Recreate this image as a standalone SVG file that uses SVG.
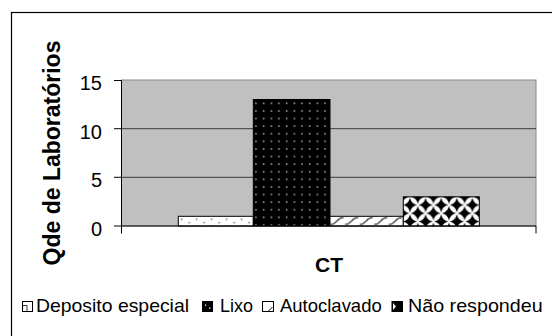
<svg xmlns="http://www.w3.org/2000/svg" width="552" height="336" viewBox="0 0 552 336">
<style>
.t{font-family:"Liberation Sans",Arial,sans-serif;fill:#000}
.tick{font-size:20px;text-anchor:end}
.leg{font-size:19px}
.bar{stroke:#000;stroke-width:1}
.ax{stroke:#000;stroke-width:1;fill:none}
.grid{stroke:#3a3a3a;stroke-width:1}
.dm{fill:#000}
</style>
<defs>
<pattern id="pDep" patternUnits="userSpaceOnUse" x="178.3" y="216.3" width="15" height="7">
<rect width="15" height="7" fill="#fff"/>
<circle cx="3.4" cy="3" r="0.75" fill="#333"/>
<circle cx="10.9" cy="6.4" r="0.75" fill="#333"/>
</pattern>
<pattern id="pLixo" patternUnits="userSpaceOnUse" x="253.3" y="99.5" width="7.67" height="7.6">
<rect width="7.67" height="7.6" fill="#000"/>
<circle cx="2.7" cy="3.8" r="0.8" fill="#ddd"/>
</pattern>
<pattern id="pAuto" patternUnits="userSpaceOnUse" x="330" y="216.5" width="14.6" height="9">
<rect width="14.6" height="9" fill="#fff"/>
<path d="M0.5,8 Q4,8 7,4.5 T13.5,1" fill="none" stroke="#000" stroke-width="1.1"/>
</pattern>
<pattern id="pNao" patternUnits="userSpaceOnUse" x="402.2" y="196.7" width="15.6" height="16.6">
<rect width="15.6" height="16.6" fill="#fff"/>
<path class="dm" d="M7.8,1 Q9,7 14.8,8.3 Q9,9.6 7.8,15.6 Q6.6,9.6 0.8,8.3 Q6.6,7 7.8,1Z"/>
<path class="dm" d="M0,-7.3 Q1.2,-1.3 7,0 Q1.2,1.3 0,7.3 Q-1.2,1.3 -7,0 Q-1.2,-1.3 0,-7.3Z"/>
<path class="dm" d="M15.6,-7.3 Q16.8,-1.3 22.6,0 Q16.8,1.3 15.6,7.3 Q14.4,1.3 8.6,0 Q14.4,-1.3 15.6,-7.3Z"/>
<path class="dm" d="M0,9.3 Q1.2,15.3 7,16.6 Q1.2,17.9 0,23.9 Q-1.2,17.9 -7,16.6 Q-1.2,15.3 0,9.3Z"/>
<path class="dm" d="M15.6,9.3 Q16.8,15.3 22.6,16.6 Q16.8,17.9 15.6,23.9 Q14.4,17.9 8.6,16.6 Q14.4,15.3 15.6,9.3Z"/>
</pattern>
</defs>

<rect id="frame" x="11.5" y="12.5" width="560" height="340" fill="#fff" stroke="#000" stroke-width="1.2"/>

<g id="plot-area">
<rect x="121.5" y="80" width="414.5" height="146" fill="#c0c0c0" stroke="#8a8a8a" stroke-width="1"/>
<line class="grid" x1="121.5" y1="128.7" x2="536" y2="128.7"/>
<line class="grid" x1="121.5" y1="177.3" x2="536" y2="177.3"/>
</g>

<g id="bars">
<g id="bar-deposito"><rect class="bar" x="178.3" y="216.3" width="75" height="9.7" fill="url(#pDep)"/></g>
<g id="bar-lixo"><rect class="bar" x="253.3" y="99.5" width="76.7" height="126.5" fill="url(#pLixo)"/></g>
<g id="bar-autoclavado"><rect class="bar" x="330" y="216.3" width="73.3" height="9.7" fill="url(#pAuto)"/></g>
<g id="bar-nao"><rect class="bar" x="403.3" y="196.8" width="76" height="29.2" fill="url(#pNao)"/></g>
</g>

<g id="axes">
<path class="ax" d="M121.5,80 V233.5 M114,80.5 H121.5 M114,128.7 H121.5 M114,177.3 H121.5 M114,226 H536 V233.5"/>
<text class="t tick" x="102" y="90">15</text>
<text class="t tick" x="102" y="138.5">10</text>
<text class="t tick" x="102" y="187">5</text>
<text class="t tick" x="102" y="235.7">0</text>
<text class="t" x="329" y="271.5" font-size="21" font-weight="bold" text-anchor="middle">CT</text>
<text class="t" transform="translate(60,153) rotate(-90)" font-size="23" font-weight="bold" text-anchor="middle">Qde de Laboratórios</text>
</g>

<g id="legend">
<g id="leg-deposito">
<rect x="22.5" y="301.5" width="10" height="10" fill="#fff" stroke="#000"/>
<path d="M23,305.5 H27 V311" fill="none" stroke="#000" stroke-width="0.8"/>
<text class="t leg" x="36" y="311.5" textLength="153" lengthAdjust="spacingAndGlyphs">Deposito especial</text>
</g>
<g id="leg-lixo">
<rect x="202.5" y="301.5" width="10" height="10" fill="#000" stroke="#000"/>
<rect x="205" y="304.5" width="1.3" height="1.3" fill="#fff"/>
<rect x="209" y="307.5" width="1.3" height="1.3" fill="#fff"/>
<text class="t leg" x="220" y="311.5" textLength="33" lengthAdjust="spacingAndGlyphs">Lixo</text>
</g>
<g id="leg-autoclavado">
<rect x="262.5" y="301.5" width="11" height="10" fill="#fff" stroke="#000"/>
<path d="M268.5,311 L272.5,307" fill="none" stroke="#000" stroke-width="1"/>
<text class="t leg" x="280" y="311.5" textLength="101.7" lengthAdjust="spacingAndGlyphs">Autoclavado</text>
</g>
<g id="leg-nao">
<rect x="392" y="301.5" width="10.5" height="10" fill="#000" stroke="#000"/>
<path d="M393,303 L396,306.5 L393,310 Z" fill="#fff"/>
<text class="t leg" x="408" y="311.5" textLength="134.7" lengthAdjust="spacingAndGlyphs">Não respondeu</text>
</g>
</g>
</svg>
